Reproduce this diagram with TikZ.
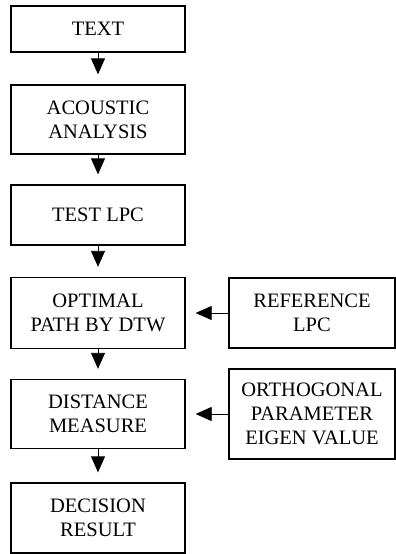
\documentclass[tikz,border=0pt]{standalone}
\usepackage{fontspec}
\setmainfont{Liberation Serif}
\usetikzlibrary{arrows.meta}
\begin{document}
\begin{tikzpicture}[x=1pt,y=-1pt,
    blk/.style={draw,line width=1.3pt,minimum width=174pt,inner sep=0pt,
      align=center,font=\rmfamily\fontsize{20.5}{24}\selectfont},
    side/.style={blk,minimum width=166pt},
    flow/.style={-{Triangle[length=16pt,width=14pt]},line width=0.8pt,shorten >=10pt}]
  \useasboundingbox (0,0) rectangle (396,554);
  \node[blk,minimum height=46pt] (text) at (98,29) {TEXT};
  \node[blk,minimum height=69pt] (acoustic) at (98,119.5) {ACOUSTIC\\ANALYSIS};
  \node[blk,minimum height=60pt] (testlpc) at (98,215) {TEST LPC};
  \node[blk,minimum height=71pt] (optimal) at (98,313) {OPTIMAL\\PATH BY DTW};
  \node[blk,minimum height=69pt] (distance) at (98,414) {DISTANCE\\MEASURE};
  \node[blk,minimum height=70pt] (decision) at (98,518) {DECISION\\RESULT};
  \node[side,minimum height=70pt] (reflpc) at (312,313) {REFERENCE\\LPC};
  \node[side,minimum height=90pt] (ortho) at (312,414) {ORTHOGONAL\\PARAMETER\\EIGEN VALUE};
  \draw[flow] (text) -- (acoustic);
  \draw[flow] (acoustic) -- (testlpc);
  \draw[flow] (testlpc) -- (optimal);
  \draw[flow] (optimal) -- (distance);
  \draw[flow] (distance) -- (decision);
  \draw[flow] (reflpc) -- (optimal);
  \draw[flow] (ortho) -- (distance);
\end{tikzpicture}
\end{document}
